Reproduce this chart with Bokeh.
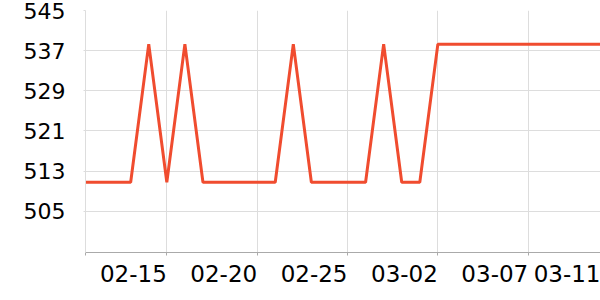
import pandas as pd
from bokeh.plotting import figure
from bokeh.models import FixedTicker, CustomJSTickFormatter, Range1d
from bokeh.embed import file_html
from bokeh.resources import INLINE

dates = pd.date_range("2023-02-10", "2023-03-11", freq="D")
values = [510.8, 510.8, 510.8, 510.8, 538.3, 510.8, 538.3, 510.8, 510.8, 510.8,
          510.8, 510.8, 538.3, 510.8, 510.8, 510.8, 510.8, 538.3, 510.8, 510.8,
          538.3, 538.3, 538.3, 538.3, 538.3, 538.3, 538.3, 538.3, 538.3, 538.3]
x_ticks = ["2023-02-15", "2023-02-20", "2023-02-25", "2023-03-02", "2023-03-07", "2023-03-11"]
y_ticks = [505, 513, 521, 529, 537, 545]

def ms(s):
    return pd.Timestamp(s).value / 1e6

x_start = ms("2023-02-10 12:00")
x_end = ms("2023-03-11 00:00")
real_ticks = [ms(t) for t in x_ticks]

# labels are right-aligned at their ticks: shift label anchors left by half a label width
label_shift = 1.85 * 86400000
label_ticks = [t - label_shift for t in real_ticks]

p = figure(width=600, height=300, output_backend="svg", toolbar_location=None,
           x_axis_type="datetime",
           x_range=Range1d(x_start, x_end), y_range=Range1d(496.8, 545))
p.min_border_left = 85
p.min_border_right = 0
p.min_border_top = 10
p.min_border_bottom = 48
p.outline_line_color = None
p.background_fill_color = "white"
p.border_fill_color = "white"

p.line(dates, values, line_color="#f04c2f", line_width=3)

p.xaxis.ticker = FixedTicker(ticks=label_ticks, minor_ticks=[x_start] + real_ticks)
p.xaxis.formatter = CustomJSTickFormatter(args={"off": label_shift}, code="""
    const d = new Date(Math.round(tick + off));
    const m = String(d.getUTCMonth() + 1).padStart(2, '0');
    const dd = String(d.getUTCDate()).padStart(2, '0');
    return m + '-' + dd;
""")
p.yaxis.ticker = FixedTicker(ticks=y_ticks)

for ax in (p.xaxis, p.yaxis):
    ax.major_label_text_font = "DejaVu Sans"
    ax.major_label_text_color = "black"
    ax.major_tick_in = 0
    ax.minor_tick_in = 0

p.xaxis.major_label_text_font_size = "23px"
p.yaxis.major_label_text_font_size = "22px"

p.xaxis.axis_line_color = "#aaaaaa"
p.xaxis.major_tick_line_color = None
p.xaxis.major_tick_out = 3
p.xaxis.minor_tick_line_color = "#aaaaaa"
p.xaxis.minor_tick_out = 3
p.xaxis.major_label_standoff = 9

p.yaxis.axis_line_color = "#dddddd"
p.yaxis.major_tick_line_color = "#dddddd"
p.yaxis.major_tick_out = 2
p.yaxis.minor_tick_line_color = None
p.yaxis.major_label_standoff = 18

p.xgrid.ticker = FixedTicker(ticks=real_ticks)
p.xgrid.grid_line_color = "#dddddd"
p.ygrid.grid_line_color = "#dddddd"

open("out.html", "w").write(file_html(p, INLINE))
